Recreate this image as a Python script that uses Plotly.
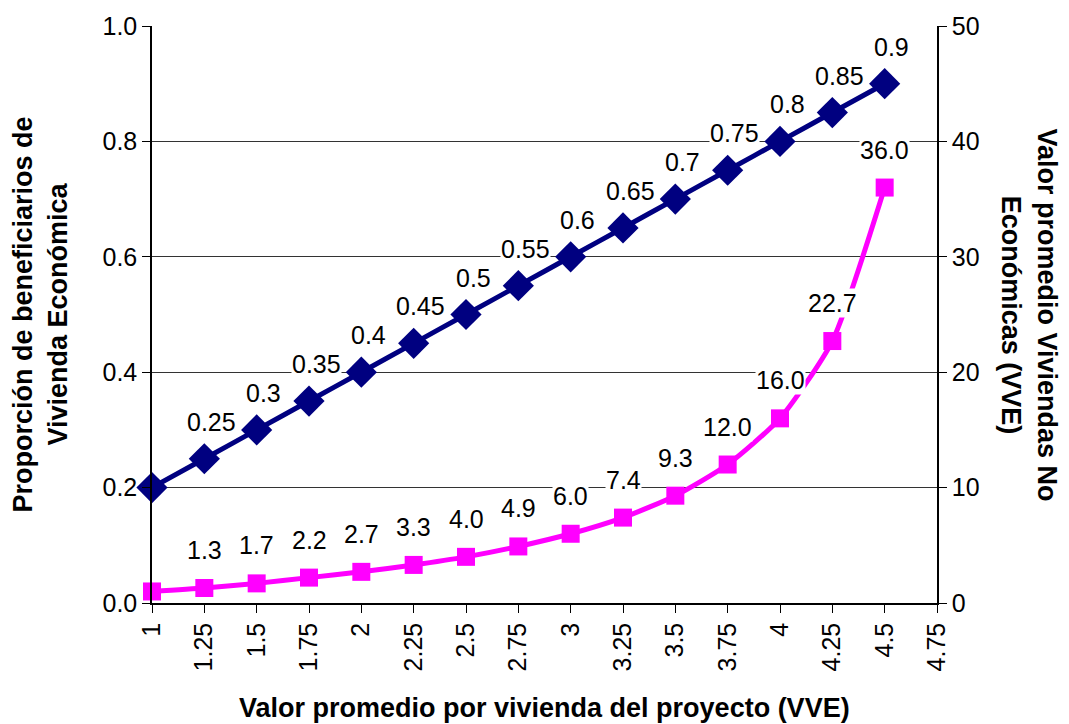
import plotly.graph_objects as go

# Project average value per dwelling (VVE)
vve = [1.0, 1.25, 1.5, 1.75, 2.0, 2.25, 2.5, 2.75, 3.0, 3.25, 3.5, 3.75, 4.0, 4.25, 4.5]
# Share of beneficiaries of economic housing (left axis)
share_economic = [0.2, 0.25, 0.3, 0.35, 0.4, 0.45, 0.5, 0.55, 0.6, 0.65, 0.7, 0.75, 0.8, 0.85, 0.9]
share_labels = ["", "0.25", "0.3", "0.35", "0.4", "0.45", "0.5", "0.55", "0.6", "0.65",
                "0.7", "0.75", "0.8", "0.85", "0.9"]
# Average value of non-economic dwellings (right axis)
value_non_economic = [1.0, 1.3, 1.7, 2.2, 2.7, 3.3, 4.0, 4.9, 6.0, 7.4, 9.3, 12.0, 16.0, 22.7, 36.0]
value_labels = ["", "1.3", "1.7", "2.2", "2.7", "3.3", "4.0", "4.9", "6.0", "7.4",
                "9.3", "12.0", "16.0", "22.7", "36.0"]

x_ticks = [1, 1.25, 1.5, 1.75, 2, 2.25, 2.5, 2.75, 3, 3.25, 3.5, 3.75, 4, 4.25, 4.5, 4.75]
x_ticktext = ["1", "1.25", "1.5", "1.75", "2", "2.25", "2.5", "2.75", "3", "3.25",
              "3.5", "3.75", "4", "4.25", "4.5", "4.75"]

FONT = "Liberation Sans, Arial, sans-serif"
NAVY = "#000080"
MAGENTA = "#FF00FF"
NUM_SIZE = 25
TITLE_SIZE = 27

fig = go.Figure()

fig.add_trace(go.Scatter(
    x=vve, y=value_non_economic, yaxis="y2", mode="lines+markers",
    line=dict(color=MAGENTA, width=5, shape="spline", smoothing=0.6),
    marker=dict(symbol="square", size=18, color=MAGENTA),
    cliponaxis=False, showlegend=False,
))
fig.add_trace(go.Scatter(
    x=vve, y=share_economic, mode="lines+markers",
    line=dict(color=NAVY, width=5, shape="spline", smoothing=0.4),
    marker=dict(symbol="diamond", size=24, color=NAVY),
    cliponaxis=False, showlegend=False,
))

annotations = []
for xv, yv, t in zip(vve, share_economic, share_labels):
    if t:
        annotations.append(dict(x=xv, y=yv, xref="x", yref="y", text=t, showarrow=False,
                                yshift=37, xshift=7, bgcolor="white", borderpad=0,
                                font=dict(family=FONT, size=NUM_SIZE, color="black")))
for xv, yv, t in zip(vve, value_non_economic, value_labels):
    if t:
        annotations.append(dict(x=xv, y=yv, xref="x", yref="y2", text=t, showarrow=False,
                                yshift=38, bgcolor="white", borderpad=0,
                                font=dict(family=FONT, size=NUM_SIZE, color="black")))

title_font = dict(family=FONT, size=TITLE_SIZE, color="black")
annotations += [
    dict(text="<b>Valor promedio por vivienda del proyecto (VVE)</b>", xref="paper", yref="paper",
         x=0.5, y=0, yshift=-105, showarrow=False, font=title_font, yanchor="middle"),
    dict(text="<b>Proporción de beneficiarios de<br>Vivienda Económica</b>", xref="paper",
         yref="paper", x=0, xshift=-112, y=0.5, textangle=-90, showarrow=False,
         font=title_font, xanchor="center", yanchor="middle"),
    dict(text="<b>Valor promedio Viviendas No<br>Económicas (VVE)</b>", xref="paper",
         yref="paper", x=1, xshift=92, y=0.5, textangle=90, showarrow=False,
         font=title_font, xanchor="center", yanchor="middle"),
]

axis_common = dict(ticks="outside", ticklen=8, tickcolor="black", showline=True,
                   linecolor="black", linewidth=1.5, zeroline=False,
                   tickfont=dict(family=FONT, size=NUM_SIZE))

fig.update_layout(
    width=1069, height=724,
    margin=dict(l=152, r=132, t=24, b=121),
    paper_bgcolor="white", plot_bgcolor="white",
    font=dict(family=FONT, size=NUM_SIZE, color="black"),
    xaxis=dict(range=[1, 4.75], tickmode="array", tickvals=x_ticks, ticktext=x_ticktext,
               tickangle=-90, showgrid=False, **axis_common),
    yaxis=dict(range=[0, 1.0], tickvals=[0, 0.2, 0.4, 0.6, 0.8, 1.0], tickformat=".1f",
               showgrid=True, gridcolor="#333333", gridwidth=1, **axis_common),
    yaxis2=dict(range=[0, 50], tickvals=[0, 10, 20, 30, 40, 50], overlaying="y",
                side="right", showgrid=False, **axis_common),
    annotations=annotations,
)

fig.write_html("out.html")
